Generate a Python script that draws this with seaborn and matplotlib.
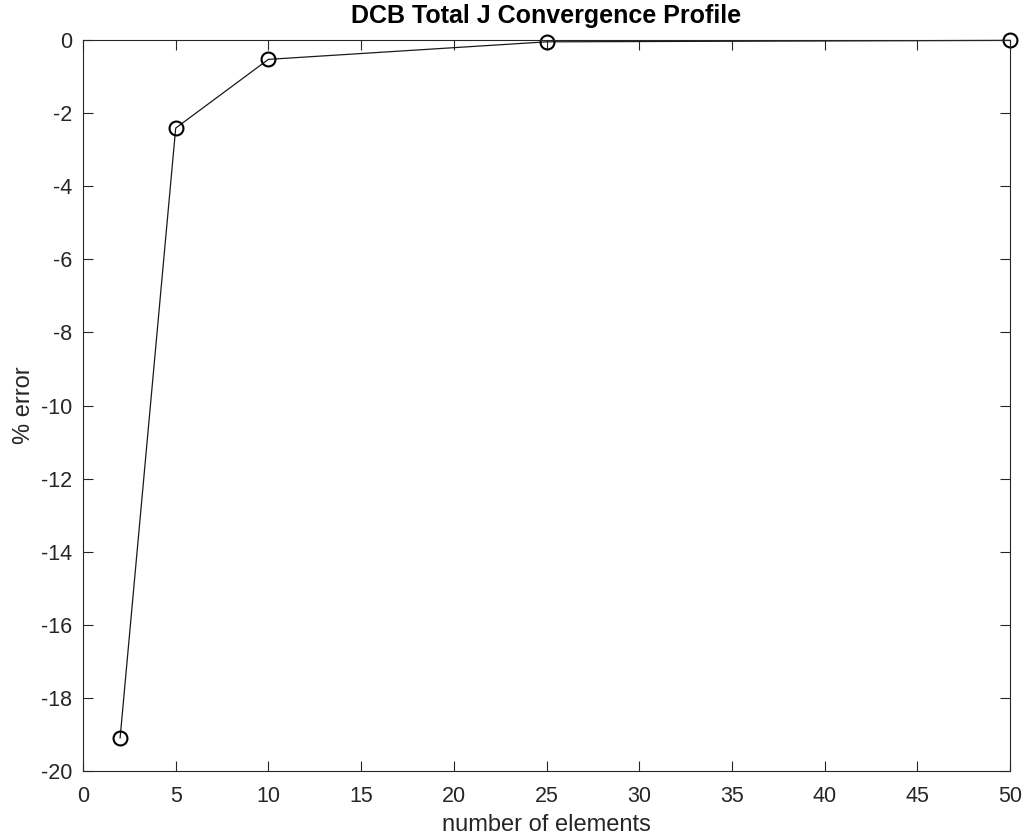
import matplotlib
matplotlib.use("Agg")
import matplotlib.pyplot as plt
import seaborn as sns
import pandas as pd

elements = [2, 5, 10, 25, 50]
pct_error = [-19.1, -2.41, -0.53, -0.05, -0.01]

sns.set_theme(style="white")
plt.rcParams['font.family'] = ['Liberation Sans', 'DejaVu Sans']
plt.rcParams['axes.unicode_minus'] = False

df = pd.DataFrame({"number of elements": elements, "% error": pct_error})

fig = plt.figure(figsize=(10.25, 8.39), dpi=100)
ax = fig.add_axes([83/1025, 1 - 771/839, (1010-83)/1025, (771-40)/839])

sns.lineplot(data=df, x="number of elements", y="% error", ax=ax,
             color="#1a1a1a", linewidth=0.9, marker="o", markersize=10,
             markerfacecolor="none", markeredgecolor="black", markeredgewidth=1.5,
             clip_on=False)

ax.set_xlim(0, 50)
ax.set_ylim(-20, 0)
ax.set_xticks(range(0, 51, 5))
ax.set_yticks(range(-20, 1, 2))
edge = "#262626"
for s in ax.spines.values():
    s.set_color(edge)
    s.set_linewidth(0.8)
    s.set_visible(True)
ax.tick_params(direction="in", length=7, width=0.8, color=edge, labelcolor=edge,
               labelsize=15.5, top=True, right=True, bottom=True, left=True,
               labeltop=False, labelright=False)
ax.tick_params(axis="x", pad=11)
ax.tick_params(axis="y", pad=8)
ax.set_xlabel("number of elements", fontsize=17, color=edge, labelpad=5)
ax.set_ylabel("% error", fontsize=17, color=edge, labelpad=4)
ax.set_title("DCB Total J Convergence Profile", fontsize=18, fontweight="bold",
             color="black", pad=12)
ax.grid(False)

fig.savefig("out.png", dpi=100)
